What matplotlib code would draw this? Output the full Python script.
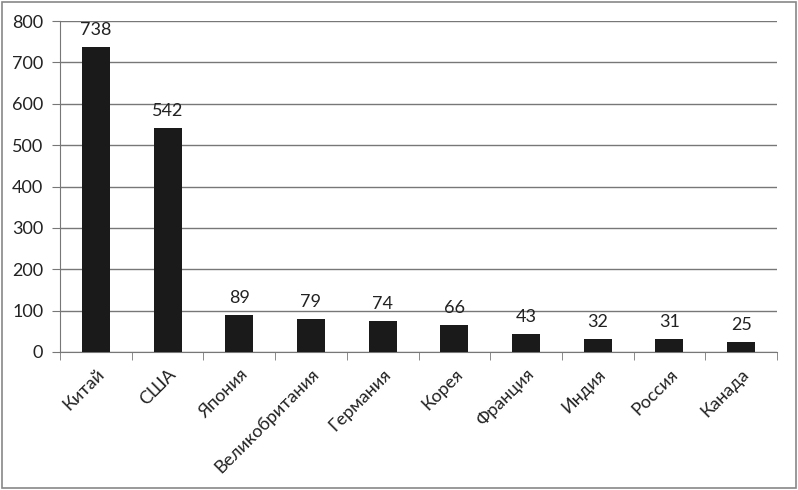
import matplotlib
matplotlib.use("Agg")
import matplotlib.pyplot as plt
from matplotlib.patches import Rectangle
import numpy as np

categories = ["Китай", "США", "Япония", "Великобритания", "Германия", "Корея",
              "Франция", "Индия", "Россия", "Канада"]
values = [738, 542, 89, 79, 74, 66, 43, 32, 31, 25]
yticks = [0, 100, 200, 300, 400, 500, 600, 700, 800]

plt.rcParams['font.family'] = ['Lato', 'DejaVu Sans']

fig = plt.figure(figsize=(7.98, 4.90), dpi=100)
ax = fig.add_axes([60/798, 1-352/490, (777-60)/798, (352-21)/490])

x = np.arange(len(categories))
bars = ax.bar(x, values, width=0.39, color='#1a1a1a', zorder=3)
for xi, v in zip(x, values):
    ax.text(xi, v + 22, str(v), ha='center', va='bottom', fontsize=13, color='#222222')

ax.set_xlim(-0.5, len(categories) - 0.5)
ax.set_ylim(0, 800)
ax.set_yticks(yticks)
ax.set_yticklabels([str(t) for t in yticks], fontsize=13, color='#222222')
ax.yaxis.grid(True, color='#777777', linewidth=1.0, zorder=0)
ax.set_axisbelow(True)

ax.set_xticks(x)
ax.set_xticklabels(categories, rotation=45, ha='right', rotation_mode='anchor',
                   fontsize=13, color='#222222')
ax.tick_params(axis='x', length=0, pad=10)
# boundary tick marks
ax.set_xticks(np.arange(-0.5, len(categories), 1.0), minor=True)
ax.tick_params(axis='x', which='minor', length=6, color='#777777', direction='out')
ax.tick_params(axis='y', length=6, color='#777777', pad=6)

for s in ['top', 'right']:
    ax.spines[s].set_visible(False)
ax.spines['left'].set_color('#777777')
ax.spines['bottom'].set_color('#777777')

fig.patches.append(Rectangle((2/798, 2/490), 794/798, 486/490, transform=fig.transFigure,
                             fill=False, edgecolor='#888888', linewidth=1.2))

fig.savefig("out.png", dpi=100)
